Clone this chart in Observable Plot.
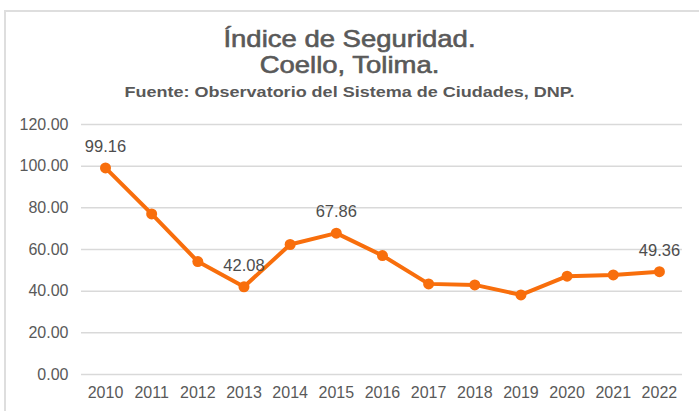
<!DOCTYPE html>
<html>
<head>
<meta charset="utf-8">
<script src="https://cdn.jsdelivr.net/npm/d3@7"></script>
<script src="https://cdn.jsdelivr.net/npm/@observablehq/plot@0.6"></script>
<style>
  html, body { margin: 0; padding: 0; background: #fff; }
  #wrap { position: relative; width: 699px; height: 411px; overflow: hidden; font-family: "Liberation Sans", Arial, sans-serif; }
  #frame { position: absolute; left: 4px; top: 10px; width: 720px; height: 420px; border-top: 2px solid #dedede; border-left: 2px solid #dedede; box-sizing: border-box; }
  .t { position: absolute; left: 0; width: 699px; text-align: center; color: #595959; white-space: nowrap; transform-origin: 349.5px 0; }
  #t1, #t2 { font-size: 24px; line-height: 24px; transform: scaleX(1.145); -webkit-text-stroke: 0.6px #595959; }
  #t1 { top: 26.7px; }
  #t2 { top: 52.7px; }
  #t3 { top: 84.3px; font-size: 15px; line-height: 15px; font-weight: bold; transform: scaleX(1.2); }
  #chart { position: absolute; left: 0; top: 0; }
</style>
</head>
<body>
<div id="wrap">
  <div id="frame"></div>
  <div class="t" id="t1">Índice de Seguridad.</div>
  <div class="t" id="t2">Coello, Tolima.</div>
  <div class="t" id="t3">Fuente: Observatorio del Sistema de Ciudades, DNP.</div>
  <div id="chart"></div>
</div>
<script>
const years = [2010, 2011, 2012, 2013, 2014, 2015, 2016, 2017, 2018, 2019, 2020, 2021, 2022];
const values = [99.16, 77.1, 54.2, 42.08, 62.4, 67.86, 57.1, 43.5, 43.0, 38.2, 47.2, 47.8, 49.36];
const labeledYears = [2010, 2013, 2015, 2022];
const yTicks = [0, 20, 40, 60, 80, 100, 120];

const data = years.map((year, i) => ({year, value: values[i]}));
const labeled = data.filter(d => labeledYears.includes(d.year));
const orange = "#f86e0c";

const chart = Plot.plot({
  width: 699,
  height: 411,
  marginTop: 124,
  marginBottom: 37,
  marginLeft: 81,
  marginRight: 17,
  style: {fontFamily: "'Liberation Sans', Arial, sans-serif", fontSize: "16px", color: "#595959", background: "transparent"},
  x: {type: "linear", domain: [2009.48, 2022.5], ticks: years, tickFormat: d => String(d), tickSize: 0, tickPadding: 12, label: null},
  y: {domain: [0, 120], ticks: yTicks, tickFormat: d => d.toFixed(2), tickSize: 0, tickPadding: 13, label: null},
  marks: [
    Plot.ruleY(yTicks, {stroke: "#d9d9d9", strokeWidth: 1.5}),
    Plot.line(data, {x: "year", y: "value", stroke: orange, strokeWidth: 4}),
    Plot.dot(data, {x: "year", y: "value", fill: orange, r: 5.5}),
    Plot.text(labeled, {x: "year", y: "value", text: d => d.value.toFixed(2), dy: -21, fill: "#4d4d4d", fontSize: 16.5})
  ]
});
document.getElementById("chart").appendChild(chart);
</script>
</body>
</html>
